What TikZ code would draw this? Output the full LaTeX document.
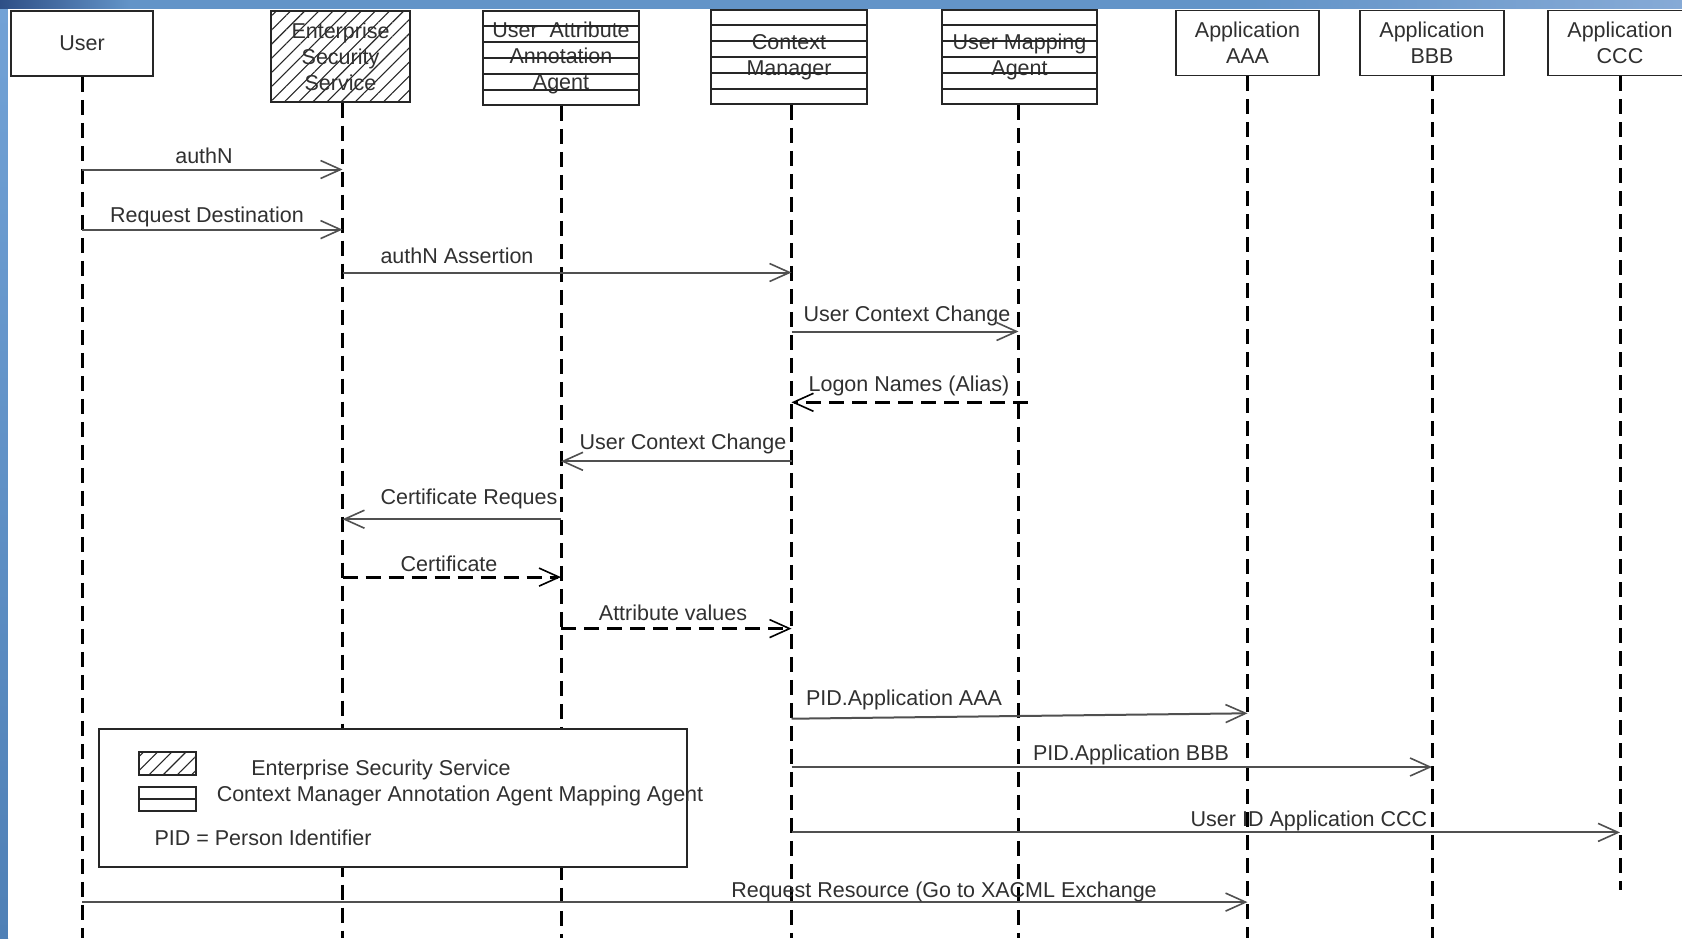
\documentclass[tikz,border=0pt]{standalone}
\usepackage{fontspec}
\setmainfont{Liberation Sans}
\usetikzlibrary{arrows.meta,calc,patterns.meta}
\definecolor{frameblue}{HTML}{6394C8}
\definecolor{framedark}{HTML}{2E4F86}
\definecolor{framelight}{HTML}{86AAD6}
\definecolor{sidetop}{HTML}{72A2D6}
\definecolor{sidebottom}{HTML}{4F80B6}
\definecolor{ink}{HTML}{303030}
\definecolor{msgline}{HTML}{505050}

\tikzset{
  every node/.style={font=\fontsize{21.5pt}{26pt}\selectfont, text=ink},
  actor/.style={draw=black!85, line width=1.6pt, fill=white, align=center,
    inner sep=0pt, minimum height=65pt},
  hatched/.style={draw=black!85, line width=1.6pt, align=center, inner sep=0pt,
    pattern={Lines[angle=45,distance=10pt,line width=1.1pt]}, pattern color=black!85},
  striped/.style={actor, minimum height=94pt},
  stripe/.style={draw=black!85, line width=1.6pt},
  lifeline/.style={line width=3pt, dash pattern=on 15pt off 8pt, black},
  tip/.style={-{Straight Barb[length=20pt,width=18pt,line width=1.6pt]}},
  msg/.style={tip, line width=2pt, draw=msgline},
  reply/.style={tip, line width=3pt, dash pattern=on 15pt off 8pt, black},
  lbl/.style={inner sep=0pt},
  legendbox/.style={draw=black!85, line width=1.6pt, fill=white, inner sep=0pt},
}

\begin{document}
\begin{tikzpicture}[x=1pt,y=-1pt]
\path[use as bounding box] (0,0) rectangle (1682,938);
\clip (0,0) rectangle (1682,938);

% window frame: blue strip on top and down the left side
\shade[left color=framedark, right color=frameblue] (0,0) rectangle (130,9);
\fill[frameblue] (130,0) rectangle (1250,9);
\shade[left color=frameblue, right color=framelight] (1250,0) rectangle (1682,9);
\shade[top color=sidetop, bottom color=sidebottom] (0,9) rectangle (8,938);
\fill[white] (8,9) rectangle (1682,938);

% participants
\node[actor, minimum width=142pt] (user) at (82,43.5) {User};
\node[hatched, minimum width=139pt, minimum height=91pt] (ess) at (340.5,56.5)
  {Enterprise\\Security\\Service};
\node[striped, minimum width=156pt] (uaaa) at (561,58)
  {User\ \ Attribute\\Annotation\\Agent};
\node[striped, minimum width=156pt] (cm) at (789,57) {Context\\Manager};
\node[striped, minimum width=155pt] (uma) at (1019.5,57) {User Mapping\\Agent};
\node[actor, minimum width=143pt] (aaa) at (1247.5,43) {Application\\AAA};
\node[actor, minimum width=144pt] (bbb) at (1432,43) {Application\\BBB};
\node[actor, minimum width=144pt] (ccc) at (1620,43) {Application\\CCC};

% horizontal stripes of the agent boxes
\foreach \n in {uaaa,cm,uma}
  \foreach \i in {1,...,5}
    \draw[stripe] ($(\n.north west)!\i/6!(\n.south west)$) --
                  ($(\n.north east)!\i/6!(\n.south east)$);

% lifeline tops (a few lines sit a little right of their box centre)
\foreach \n/\dx in {user/0,ess/2,uaaa/0,cm/2.5,uma/-1,aaa/0,bbb/0,ccc/0}
  \coordinate (\n L) at ([xshift=\dx pt]\n.south);

% lifelines
\coordinate (bot) at (0,938);
\coordinate (cccend) at (0,890);
\foreach \n in {user,ess,uaaa,cm,uma,aaa,bbb}
  \draw[lifeline] (\n L) -- (\n L |- bot);
\draw[lifeline] (cccL) -- (cccL |- cccend);

% legend
\node[legendbox, minimum width=588pt, minimum height=138pt] (legend) at (393,798) {};
\node[hatched, minimum width=57pt, minimum height=23pt] (swhatch) at (167.5,763.5) {};
\node[draw=black!85, line width=1.6pt, minimum width=57pt, minimum height=24pt,
  inner sep=0pt] (swstripe) at (167.5,799) {};
\draw[stripe] (swstripe.west) -- (swstripe.east);
\node[lbl] (leg1) at (381,769.5) {Enterprise Security Service};
\node[lbl] (leg2) at (460,795.5) {Context Manager Annotation Agent Mapping Agent};
\node[lbl] (leg3) at (263,837.5) {PID = Person Identifier};

% message rows
\coordinate (r1) at (0,169.5);
\coordinate (r2) at (0,229.6);
\coordinate (r3) at (0,272.5);
\coordinate (r4) at (0,331.5);
\coordinate (r5) at (0,402.3);
\coordinate (r6) at (0,461.3);
\coordinate (r7) at (0,519.2);
\coordinate (r8) at (0,577.1);
\coordinate (r9) at (0,628.6);
\coordinate (r10a) at (0,718.7);
\coordinate (r10b) at (0,713.3);
\coordinate (r11) at (0,767);
\coordinate (r12) at (0,832.4);
\coordinate (r13) at (0,902.1);

% messages
\draw[msg] (userL |- r1) -- (essL |- r1);
\draw[msg] (userL |- r2) -- (essL |- r2);
\draw[msg] (essL |- r3) -- (cmL |- r3);
\draw[msg] (cmL |- r4) -- (umaL |- r4);
\draw[reply] ([xshift=9pt]umaL |- r5) -- (cmL |- r5);
\draw[msg] (cmL |- r6) -- (uaaaL |- r6);
\draw[msg] (uaaaL |- r7) -- (essL |- r7);
\draw[reply] (essL |- r8) -- (uaaaL |- r8);
\draw[reply] (uaaaL |- r9) -- (cmL |- r9);
\draw[msg] (cmL |- r10a) -- (aaaL |- r10b);
\draw[msg] (cmL |- r11) -- (bbbL |- r11);
\draw[msg] (cmL |- r12) -- (cccL |- r12);
\draw[msg] (userL |- r13) -- (aaaL |- r13);

% message labels
\node[lbl] (l1) at (204,156) {authN};
\node[lbl] (l2) at (207,217) {Request Destination};
\node[lbl] (l3) at (457,256) {authN Assertion};
\node[lbl] (l4) at (907,316) {User Context Change};
\node[lbl] (l5) at (909,386) {Logon Names (Alias)};
\node[lbl] (l6) at (683,443.5) {User Context Change};
\node[lbl] (l7) at (469,499) {Certificate Reques};
\node[lbl] (l8) at (449,563.5) {Certificate};
\node[lbl] (l9) at (673,613) {Attribute values};
\node[lbl] (l10) at (904,700) {PID.Application AAA};
\node[lbl] (l11) at (1131,754.5) {PID.Application BBB};
\node[lbl] (l12) at (1309,821) {User ID Application CCC};
\node[lbl] (l13) at (944,892) {Request Resource (Go to XACML Exchange};
\end{tikzpicture}
\end{document}
